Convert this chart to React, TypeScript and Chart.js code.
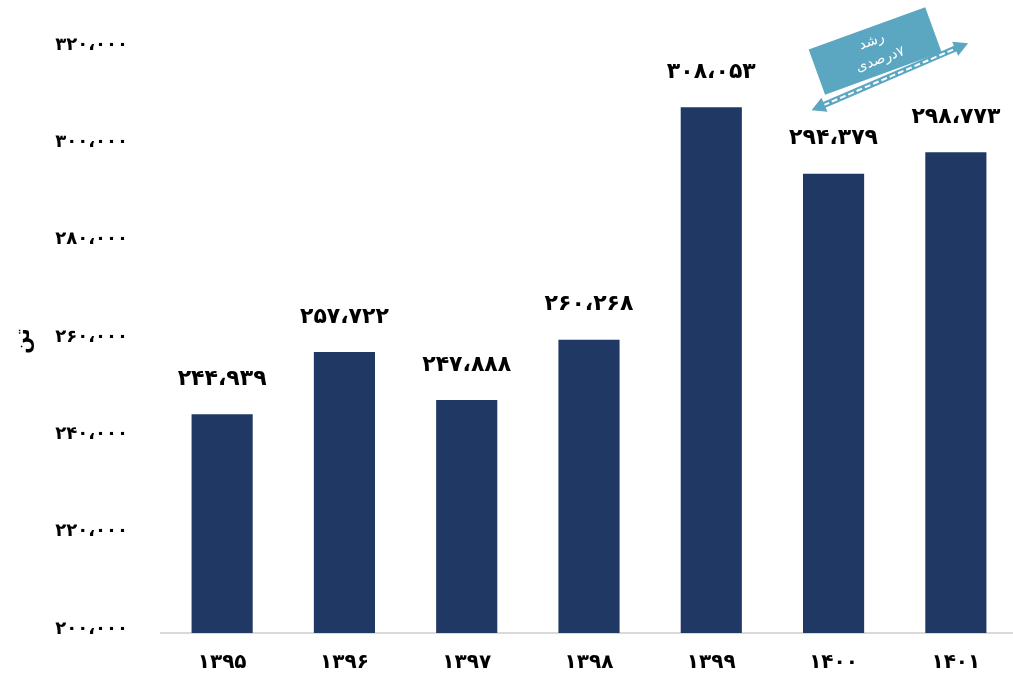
import React, { useEffect, useRef } from "react";
import { Chart, registerables } from "chart.js";

Chart.register(...registerables);

const years = ["۱۳۹۵", "۱۳۹۶", "۱۳۹۷", "۱۳۹۸", "۱۳۹۹", "۱۴۰۰", "۱۴۰۱"];
const values = [244939, 257722, 247888, 260268, 308053, 294379, 298773];
const yMin = 200000;
const yMax = 320000;
const yStep = 20000;
const yTitle = "تن";
const noteLine1 = "رشد";
const noteLine2 = "۷درصدی";

const FONT = "'DejaVu Sans', sans-serif";
const faDigits = "۰۱۲۳۴۵۶۷۸۹";
function fa(n: number): string {
  const s = Math.round(n).toString().replace(/\B(?=(\d{3})+(?!\d))/g, "،");
  return s.replace(/\d/g, (d) => faDigits[+d]);
}

const labelPlugin = {
  id: "valueLabels",
  afterDatasetsDraw(chart: any) {
    const ctx = chart.ctx;
    const meta = chart.getDatasetMeta(0);
    ctx.save();
    ctx.font = `bold 22px ${FONT}`;
    ctx.fillStyle = "#000";
    ctx.textAlign = "center";
    ctx.textBaseline = "middle";
    meta.data.forEach((bar: any, i: number) => {
      ctx.fillText(fa(values[i]), bar.x, bar.y - 35);
    });
    // y tick labels (drawn slightly above their tick, as in the source)
    const ys = chart.scales.y;
    ctx.font = `bold 18px ${FONT}`;
    ctx.textAlign = "right";
    ys.ticks.forEach((t: any) => {
      ctx.fillText(fa(t.value), ys.right - 33, ys.getPixelForValue(t.value) - 4);
    });
    ctx.restore();
  },
};

function catPx(xs: any, v: number) {
  const i = Math.floor(v);
  const a = xs.getPixelForValue(i);
  const b = xs.getPixelForValue(i + 1);
  return a + (b - a) * (v - i);
}

const notePlugin = {
  id: "growthNote",
  afterDatasetsDraw(chart: any) {
    const ctx = chart.ctx;
    const xs = chart.scales.x;
    const ys = chart.scales.y;
    const x1 = catPx(xs, 4.82);
    const y1 = ys.getPixelForValue(307400);
    const x2 = catPx(xs, 6.1);
    const y2 = ys.getPixelForValue(321200);
    const ang = Math.atan2(y2 - y1, x2 - x1);
    const teal = "#5ba6c0";
    ctx.save();
    ctx.strokeStyle = teal;
    ctx.lineWidth = 6;
    ctx.beginPath();
    ctx.moveTo(x1 + Math.cos(ang) * 10, y1 + Math.sin(ang) * 10);
    ctx.lineTo(x2 - Math.cos(ang) * 10, y2 - Math.sin(ang) * 10);
    ctx.stroke();
    ctx.strokeStyle = "#ffffff";
    ctx.lineWidth = 2;
    ctx.setLineDash([6, 3]);
    ctx.beginPath();
    ctx.moveTo(x1 + Math.cos(ang) * 13, y1 + Math.sin(ang) * 13);
    ctx.lineTo(x2 - Math.cos(ang) * 13, y2 - Math.sin(ang) * 13);
    ctx.stroke();
    ctx.setLineDash([]);
    ctx.fillStyle = teal;
    const head = (tx: number, ty: number, a: number) => {
      ctx.beginPath();
      ctx.moveTo(tx, ty);
      ctx.lineTo(tx - Math.cos(a - 0.5) * 16, ty - Math.sin(a - 0.5) * 16);
      ctx.lineTo(tx - Math.cos(a + 0.5) * 16, ty - Math.sin(a + 0.5) * 16);
      ctx.closePath();
      ctx.fill();
    };
    head(x2, y2, ang);
    head(x1, y1, ang + Math.PI);
    const cx = catPx(xs, 5.34);
    const cy = ys.getPixelForValue(319600);
    ctx.translate(cx, cy);
    ctx.rotate((-20 * Math.PI) / 180);
    ctx.fillStyle = teal;
    ctx.fillRect(-62, -24, 124, 48);
    ctx.fillStyle = "#ffffff";
    ctx.font = `14px ${FONT}`;
    ctx.direction = "rtl";
    ctx.textAlign = "center";
    ctx.textBaseline = "middle";
    ctx.fillText(noteLine1, 0, -10);
    ctx.fillText(noteLine2, 2, 10);
    ctx.restore();
  },
};

export default function App() {
  const ref = useRef<HTMLCanvasElement>(null);
  useEffect(() => {
    document.body.style.margin = "0";
    const chart = new Chart(ref.current!, {
      type: "bar",
      data: {
        labels: years,
        datasets: [
          {
            data: values,
            backgroundColor: "#1f3864",
            categoryPercentage: 1,
            barPercentage: 0.5,
          },
        ],
      },
      options: {
        animation: false,
        responsive: false,
        maintainAspectRatio: false,
        layout: { padding: { top: 49, right: 0, left: 0, bottom: 0 } },
        plugins: { legend: { display: false }, tooltip: { enabled: false } },
        scales: {
          x: {
            grid: { display: false, drawTicks: false },
            border: { display: true, color: "#d9d9d9", width: 2 },
            ticks: {
              color: "#000",
              font: { family: FONT, size: 20, weight: "bold" },
              padding: 18,
            },
            afterFit: (s: any) => {
              s.height = 43;
            },
          },
          y: {
            min: yMin,
            max: yMax,
            grid: { display: false, drawTicks: false },
            border: { display: false },
            ticks: {
              stepSize: yStep,
              display: false,
            },
            title: {
              display: true,
              text: yTitle,
              color: "#000",
              font: { family: FONT, size: 20, weight: "bold" },
              padding: { top: 12, bottom: 0 },
            },
            afterFit: (s: any) => {
              s.width = 161;
            },
          },
        },
      },
      plugins: [labelPlugin, notePlugin],
    });
    return () => chart.destroy();
  }, []);
  return (
    <div style={{ width: 1013, height: 676, overflow: "hidden" }}>
      <canvas ref={ref} width={1017} height={676} style={{ display: "block" }} />
    </div>
  );
}
